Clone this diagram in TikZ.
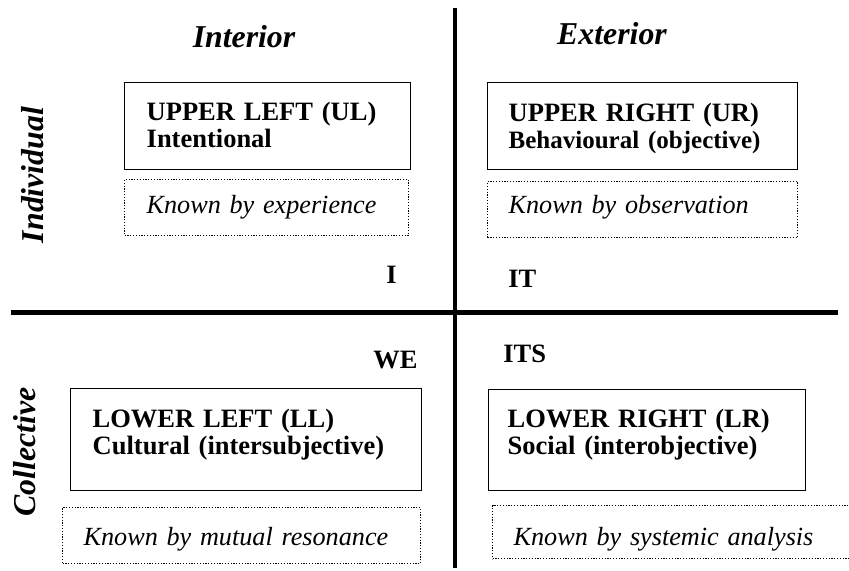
\documentclass[tikz,border=0pt]{standalone}
\usepackage{fontspec}
\setmainfont{Liberation Serif}
\usepackage{tikz}

\newcommand\axisfont{\fontsize{15.9}{19}\selectfont\bfseries\itshape}
\newcommand\quadfont{\fontsize{13.25}{13.25}\selectfont\bfseries}
\newcommand\knownfont{\fontsize{13.1}{14}\selectfont\itshape}

\tikzset{
  quadbox/.style={draw, line width=0.7pt, anchor=north west, inner ysep=0pt,
    align=left, font=\quadfont},
  knownbox/.style={draw, line width=0.6pt, dash pattern=on 0.6pt off 0.8pt,
    anchor=north west, inner ysep=0pt, align=left, font=\knownfont},
  pronoun/.style={font=\quadfont, inner sep=0pt}
}

\begin{document}
\begin{tikzpicture}[x=0.5pt, y=-0.5pt]
  \useasboundingbox (0,0) rectangle (849,570);

  % Achsen
  \coordinate (top) at (455,8);
  \coordinate (bottom) at (455,568);
  \coordinate (left) at (11,312.5);
  \coordinate (right) at (838,312.5);
  \draw[line width=2.3pt] (top) -- (bottom);
  \draw[line width=2.4pt] (left) -- (right);

  % Titel
  \node[font=\axisfont, anchor=base] (interior) at (244,47) {Interior};
  \node[font=\axisfont, anchor=base] (exterior) at (612,44) {Exterior};
  \node[font=\axisfont, anchor=base, rotate=90] (individual) at (43,175) {Individual};
  \node[font=\axisfont, anchor=base, rotate=90] (collective) at (35,452) {Collective};

  % Oben links
  \node[quadbox, inner xsep=11pt, text width=121pt, text height=19pt, text depth=24.5pt]
    (ul) at (124,82) {UPPER LEFT (UL)\\Intentional};
  \node[knownbox, inner xsep=11pt, text width=120pt, text height=17pt, text depth=11pt]
    (ulk) at (124,179) {Known by experience};
  \node[pronoun, anchor=base east] (i) at (397,283) {I};

  % Oben rechts
  \node[quadbox, inner xsep=10.5pt, text width=134pt, text height=19.5pt, text depth=24pt]
    (ur) at (487,82) {UPPER RIGHT (UR)\\{\fontsize{12.5}{13}\selectfont Behavioural (objective)}};
  \node[knownbox, inner xsep=10.5pt, text width=134pt, text height=16pt, text depth=12pt]
    (urk) at (487,181) {Known by observation};
  \node[pronoun, anchor=base west] (it) at (508,287) {IT};

  % Unten links
  \node[pronoun, anchor=base east] (we) at (418,368) {WE};
  \node[quadbox, inner xsep=11pt, text width=153.5pt, text height=19.5pt, text depth=31.5pt]
    (ll) at (70,388) {LOWER LEFT (LL)\\Cultural (intersubjective)};
  \node[knownbox, inner xsep=10.5pt, text width=158pt, text height=19pt, text depth=9pt]
    (llk) at (62,507) {Known by mutual resonance};

  % Unten rechts
  \node[pronoun, anchor=base west] (its) at (503,362) {ITS};
  \node[quadbox, inner xsep=9.5pt, text width=139.5pt, text height=19pt, text depth=31.5pt]
    (lr) at (488,389) {LOWER RIGHT (LR)\\Social (interobjective)};
  \node[knownbox, inner xsep=10.5pt, text width=159pt, text height=20pt, text depth=6.5pt]
    (lrk) at (492,505) {Known by systemic analysis};
\end{tikzpicture}
\end{document}
